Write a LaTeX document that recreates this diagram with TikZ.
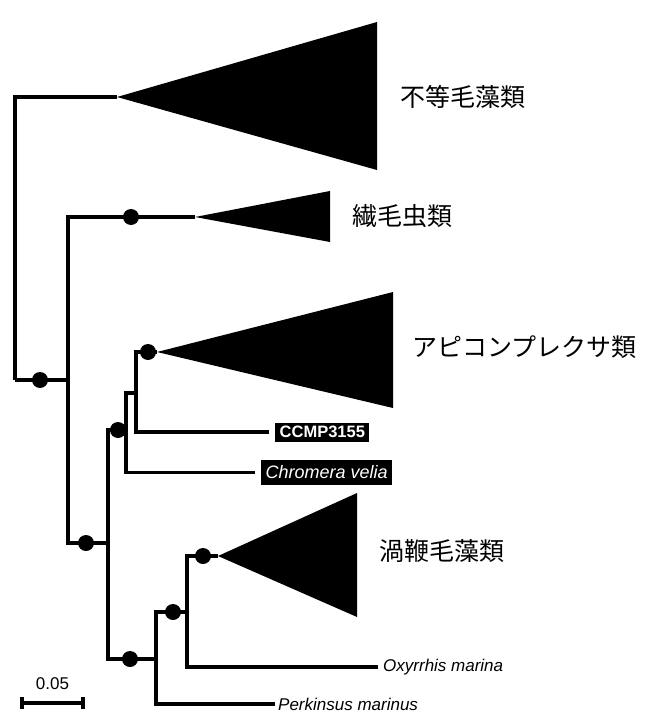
\documentclass[tikz,border=0pt]{standalone}
\usepackage{fontspec}
\setmainfont{Liberation Sans}
\newfontfamily\jpfont{Noto Sans CJK JP}
\usetikzlibrary{calc}

\begin{document}
\begin{tikzpicture}[x=1pt, y=-1pt,
  branch/.style={line width=3.2pt, line join=miter},
  boot/.style={circle, fill=black, inner sep=0pt, minimum size=16pt},
  group/.style={anchor=west, inner sep=0pt, font=\jpfont\fontsize{25}{30}\selectfont},
  taxon/.style={anchor=west, inner sep=0pt, font=\itshape\fontsize{17}{20}\selectfont},
  tag/.style={anchor=west, fill=black, text=white, inner xsep=4.5pt, inner ysep=0pt}]
\useasboundingbox (0,0) rectangle (656,714);
% inner nodes of the tree
\coordinate (root) at (15,380);
\coordinate (n1) at (68,380);
\coordinate (n2) at (108,543);
\coordinate (n3) at (126,430);
\coordinate (n4) at (136,393);
\coordinate (n5) at (156,659);
\coordinate (n6) at (187,612);
% collapsed clades
\coordinate (stram) at (117,97);
\coordinate (cil) at (195,217);
\coordinate (api) at (157,352);
\coordinate (dino) at (218,556);
\fill (stram) -- (377,22) -- (377,170) -- cycle;
\fill (cil) -- (330,191) -- (330,242) -- cycle;
\fill (api) -- (393,292) -- (393,408) -- cycle;
\fill (dino) -- (357,493) -- (357,617) -- cycle;
% tips
\node[tag, minimum height=19pt, font=\bfseries\fontsize{16.5}{18}\selectfont] (ccmp) at (275,432) {CCMP3155};
\node[tag, minimum height=25pt, font=\itshape\fontsize{18}{20}\selectfont] (chrom) at (261,472.5) {Chromera velia};
\node[taxon] (oxy) at (383,667) {Oxyrrhis marina};
\node[taxon] (perk) at (278,704) {Perkinsus marinus};
% branches
\draw[branch] (root) |- (stram);
\draw[branch] (root) |- (n1);
\draw[branch] (n1) |- (cil);
\draw[branch] (n1) |- (n2);
\draw[branch] (n2) |- (n3);
\draw[branch] (n2) |- (n5);
\draw[branch] (n3) |- (n4);
\draw[branch, shorten >=6pt] (n3) |- (chrom.west);
\draw[branch] (n4) |- (api);
\draw[branch, shorten >=6pt] (n4) |- (ccmp.west);
\draw[branch] (n5) |- (n6);
\draw[branch, shorten >=3pt] (n5) |- (perk.west);
\draw[branch] (n6) |- (dino);
\draw[branch, shorten >=5pt] (n6) |- (oxy.west);
% support values
\node[boot] (b1) at (40,380) {};
\node[boot] (b2) at (86,543) {};
\node[boot] (b3) at (118,430) {};
\node[boot] (b5) at (130,659) {};
\node[boot] (b6) at (173,612) {};
\node[boot] (bcil) at (131,217) {};
\node[boot] (bapi) at (148,352) {};
\node[boot] (bdino) at (203,556) {};
% group names
\node[group] (lstram) at (400,97) {不等毛藻類};
\node[group] (lcil) at (352,216) {繊毛虫類};
\node[group] (lapi) at (412,347) {アピコンプレクサ類};
\node[group] (ldino) at (379,551) {渦鞭毛藻類};
% scale bar
\coordinate (s0) at (22,703);
\coordinate (s1) at (83,703);
\draw[line width=3.2pt] (s0) -- (s1);
\foreach \s in {s0,s1} {
 \draw[line width=3.2pt] ($(\s)+(0,-6)$) -- ($(\s)+(0,6)$);
}
\node[font=\fontsize{17}{19}\selectfont] (scale) at (52.5,684) {0.05};
\end{tikzpicture}
\end{document}
